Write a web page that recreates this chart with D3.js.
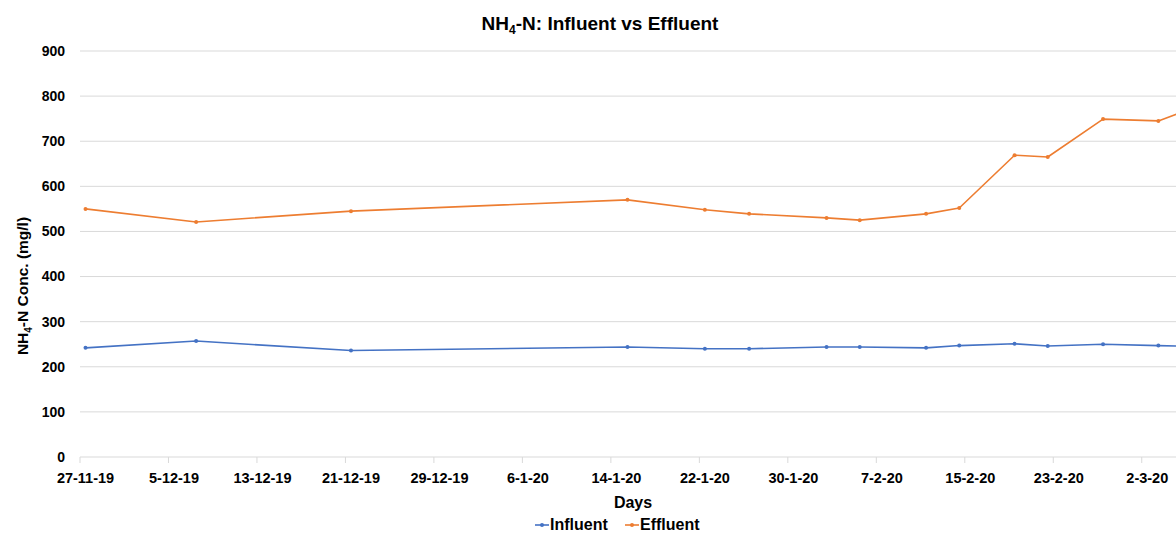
<!DOCTYPE html>
<html>
<head>
<meta charset="utf-8">
<script src="https://cdn.jsdelivr.net/npm/d3@7"></script>
<style>
  html, body { margin: 0; padding: 0; background: #fff; overflow: hidden; }
  svg { display: block; font-family: "Liberation Sans", Arial, sans-serif; }
</style>
</head>
<body>
<svg id="chart" width="1176" height="533"></svg>
<script>
// ---- data ----
const dates = ["27-11-19","7-12-19","21-12-19","15-1-20","22-1-20","26-1-20","2-2-20","5-2-20","11-2-20","14-2-20","19-2-20","22-2-20","27-2-20","3-3-20","5-3-20"];
const influent = [242, 257, 236, 244, 240, 240, 244, 244, 242, 247, 251, 246, 250, 247, 246];
const effluent = [550, 521, 545, 570, 548, 539, 530, 525, 539, 552, 669, 665, 749, 745, 763];
const xTickLabels = ["27-11-19","5-12-19","13-12-19","21-12-19","29-12-19","6-1-20","14-1-20","22-1-20","30-1-20","7-2-20","15-2-20","23-2-20","2-3-20"];
const yTicks = [0, 100, 200, 300, 400, 500, 600, 700, 800, 900];
const axisStart = "27-11-19", axisEnd = "6-3-20";

(function () {
const parse = d3.utcParse("%d-%m-%y");
const fmt = d3.utcFormat("%-d-%-m-%y");
const halfDay = 12 * 3600 * 1000;

const svg = d3.select("#chart");
const pL = 80, pR = 1186, pT = 51, pB = 457;

const x = d3.scaleUtc().domain([parse(axisStart), parse(axisEnd)]).range([pL, pR]);
const y = d3.scaleLinear().domain([0, 900]).range([pB, pT]);

// gridlines
svg.append("g").selectAll("line").data(yTicks).join("line")
  .attr("x1", pL).attr("x2", pR)
  .attr("y1", d => y(d)).attr("y2", d => y(d))
  .attr("stroke", "#d9d9d9").attr("stroke-width", 1);

// y labels
svg.append("g").selectAll("text").data(yTicks).join("text")
  .attr("x", 65).attr("y", d => y(d)).attr("dy", "0.35em")
  .attr("text-anchor", "end").attr("font-weight", "bold").attr("font-size", 14)
  .attr("fill", "#000").text(d => d);

// x axis ticks
const tickDates = xTickLabels.map(parse);
svg.append("g").selectAll("line").data(tickDates).join("line")
  .attr("x1", d => x(d)).attr("x2", d => x(d))
  .attr("y1", pB).attr("y2", pB + 6)
  .attr("stroke", "#d9d9d9");
svg.append("g").selectAll("text").data(tickDates).join("text")
  .attr("x", d => x(new Date(+d + halfDay))).attr("y", 483)
  .attr("text-anchor", "middle").attr("font-weight", "bold").attr("font-size", 14.5)
  .attr("fill", "#000").text(d => fmt(d));

// series
const series = [
  {name: "Influent", values: influent, color: "#4472C4"},
  {name: "Effluent", values: effluent, color: "#ED7D31"}
];
const px = i => x(new Date(+parse(dates[i]) + halfDay));
const line = d3.line().x((d, i) => px(i)).y(d => y(d));
const plot = svg.append("g");
series.forEach(s => {
  plot.append("path").datum(s.values)
    .attr("fill", "none").attr("stroke", s.color).attr("stroke-width", 1.6)
    .attr("stroke-linejoin", "round").attr("d", line);
  plot.append("g").selectAll("circle").data(s.values).join("circle")
    .attr("cx", (d, i) => px(i))
    .attr("cy", d => y(d)).attr("r", 2)
    .attr("fill", s.color);
});

// title
const title = svg.append("text").attr("x", 600).attr("y", 30)
  .attr("text-anchor", "middle").attr("font-weight", "bold").attr("font-size", 19).attr("fill", "#000");
title.append("tspan").text("NH");
title.append("tspan").attr("font-size", 12).attr("dy", 4).text("4");
title.append("tspan").attr("dy", -4).text("-N: Influent vs Effluent");

// y axis title
const yt = svg.append("text")
  .attr("transform", `translate(28, 286) rotate(-90)`)
  .attr("text-anchor", "middle").attr("font-weight", "bold").attr("font-size", 15.5).attr("fill", "#000");
yt.append("tspan").text("NH");
yt.append("tspan").attr("font-size", 10).attr("dy", 4).text("4");
yt.append("tspan").attr("dy", -4).text("-N Conc. (mg/l)");

// x axis title
svg.append("text").attr("x", (pL + pR) / 2).attr("y", 508)
  .attr("text-anchor", "middle").attr("font-weight", "bold").attr("font-size", 16)
  .attr("fill", "#000").text("Days");

// legend
const legend = svg.append("g");
const items = [{s: series[0], x: 535}, {s: series[1], x: 625}];
items.forEach(it => {
  legend.append("line").attr("x1", it.x).attr("x2", it.x + 14)
    .attr("y1", 525).attr("y2", 525).attr("stroke", it.s.color).attr("stroke-width", 1.6);
  legend.append("circle").attr("cx", it.x + 7).attr("cy", 525).attr("r", 2).attr("fill", it.s.color);
  legend.append("text").attr("x", it.x + 15).attr("y", 530)
    .attr("font-weight", "bold").attr("font-size", 16).attr("fill", "#000").text(it.s.name);
});
})();
</script>
</body>
</html>
